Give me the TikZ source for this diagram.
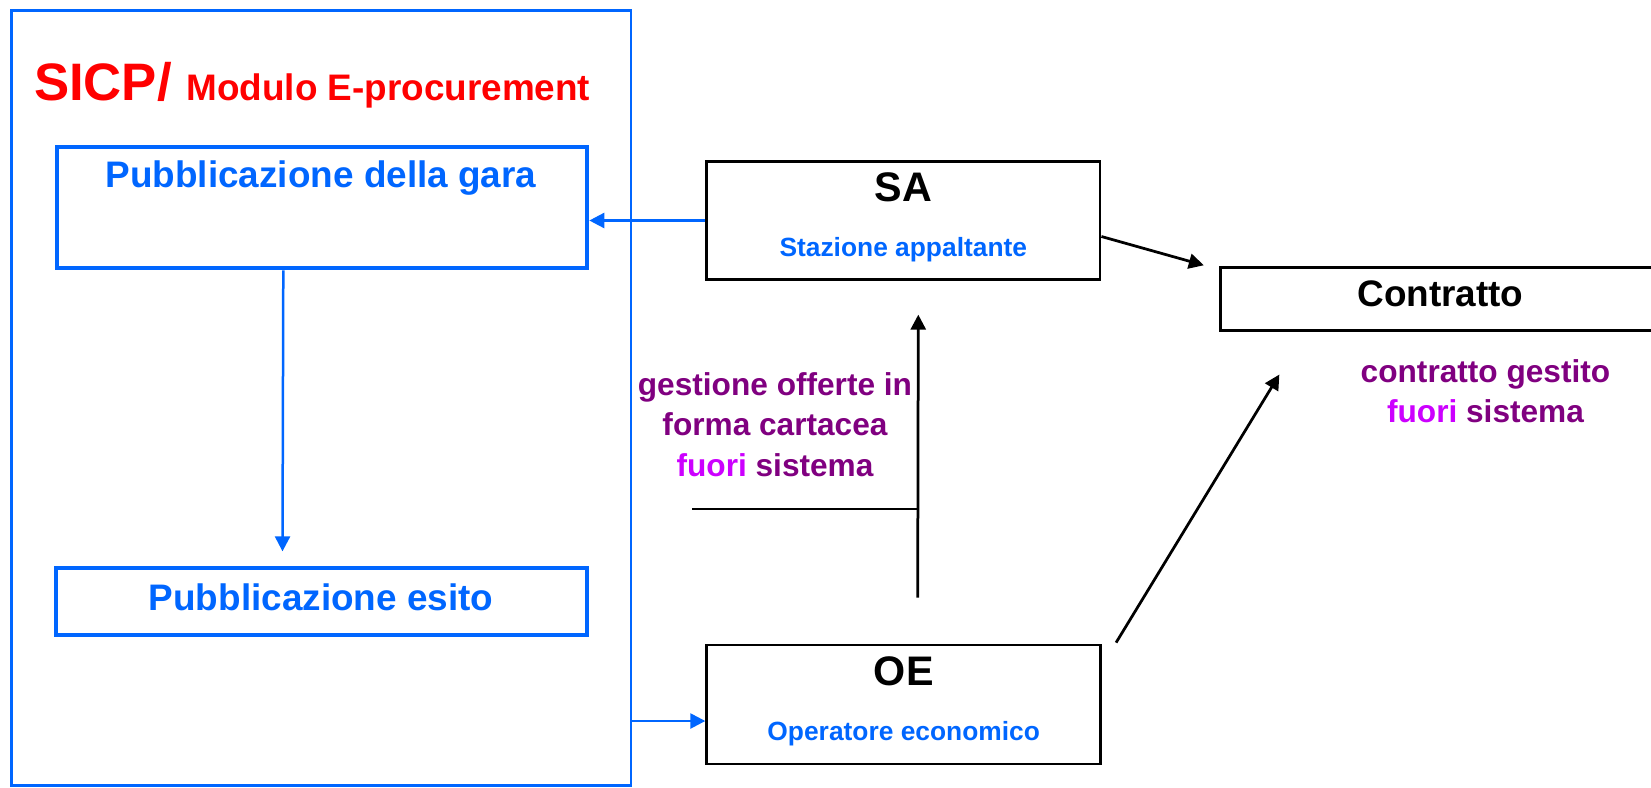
\documentclass[tikz,border=0pt]{standalone}
\usepackage{fontspec}
\setmainfont{Liberation Sans}
\usetikzlibrary{arrows.meta,calc}
\definecolor{sicpblue}{RGB}{0,102,255}
\definecolor{sicpred}{RGB}{255,0,0}
\definecolor{offpurple}{RGB}{128,0,128}
\definecolor{fuoriviolet}{RGB}{204,0,255}
\begin{document}
\begin{tikzpicture}[x=0.2mm,y=-0.2mm,
  frame/.style={draw=sicpblue,line width=0.55mm,inner sep=0pt},
  bluebox/.style={draw=sicpblue,line width=0.8mm,minimum width=106mm,inner sep=0pt},
  blackbox/.style={draw,line width=0.55mm,inner sep=0pt},
  bluearrow/.style={draw=sicpblue,line width=0.5mm,-{Triangle[length=3mm,width=3mm]}},
  blackarrow/.style={line width=0.55mm,-{Triangle[length=3mm,width=3mm]}},
  lbl/.style={inner sep=0pt,anchor=base,align=center},
  big/.style={lbl,font=\bfseries\fontsize{21}{25}\selectfont},
  huge/.style={lbl,font=\bfseries\fontsize{23.5}{28}\selectfont},
  small/.style={lbl,font=\bfseries\fontsize{15}{18}\selectfont,text=sicpblue},
  note/.style={lbl,font=\bfseries\fontsize{18}{23}\selectfont,text=offpurple}]
\useasboundingbox (0,0) rectangle (1651,787);
\node[frame,minimum width=123.9mm,minimum height=155mm] (sicp) at (321.2,398.2) {};
\node[lbl,anchor=base west,text=sicpred] (titolo) at (33.7,100) {\bfseries\fontsize{30}{36}\selectfont SICP/ \fontsize{21}{25}\selectfont Modulo E-procurement};
\node[bluebox,minimum height=24.3mm] (gara) at (322.3,207.5) {};
\node[big,text=sicpblue] (garatxt) at (321,187) {Pubblicazione della gara};
\node[bluebox,minimum height=13.3mm] (esito) at (321.5,601.6) {};
\node[big,text=sicpblue] (esitotxt) at (321,610.7) {Pubblicazione esito};
\node[blackbox,minimum width=78.7mm,minimum height=23.5mm] (sa) at (903.3,220.5) {};
\node[huge] (satxt) at (903.3,201.7) {SA};
\node[small] (sanome) at (903.3,256.7) {Stazione appaltante};
\node[blackbox,minimum width=78.8mm,minimum height=23.8mm] (oe) at (903.7,704.5) {};
\node[huge] (oetxt) at (903.7,685) {OE};
\node[small] (oenome) at (903.7,740) {Operatore economico};
\node[blackbox,minimum width=95.9mm,minimum height=12.5mm] (contratto) at (1460,298.9) {};
\node[big] (contrattotxt) at (1440.5,306.7) {Contratto};
\node[note] (fuorictr) at (1485.5,422.7) {contratto gestito\\{\color{fuoriviolet}fuori} sistema};
\node[note] (cartacea) at (775,476) {gestione offerte in\\forma cartacea\\{\color{fuoriviolet}fuori} sistema};
\coordinate (oein) at ($(oe.west)+(0,16.5)$);
\coordinate (up0) at ($(oe.north)+(14,-46)$);
\coordinate (up1) at ($(sa.south)+(15,34)$);
\coordinate (tick) at (692,509);
\draw[bluearrow] (sa.west) -- (gara.east |- sa.west);
\draw[bluearrow] ($(gara.south)+(-39,0)$) -- ($(esito.north)+(-39,-15)$);
\draw[bluearrow] (sicp.east |- oein) -- (oein);
\draw[blackarrow] ($(sa.east)+(0,16)$) -- ($(contratto.north west)+(-15,-1)$);
\draw[blackarrow] ($(oe.north east)+(14,-1)$) -- ($(contratto.south west)+(60.5,43)$);
\draw[blackarrow] (up0) -- (up1);
\draw[line width=0.35mm] (tick) -- (tick -| up0);
\end{tikzpicture}
\end{document}
